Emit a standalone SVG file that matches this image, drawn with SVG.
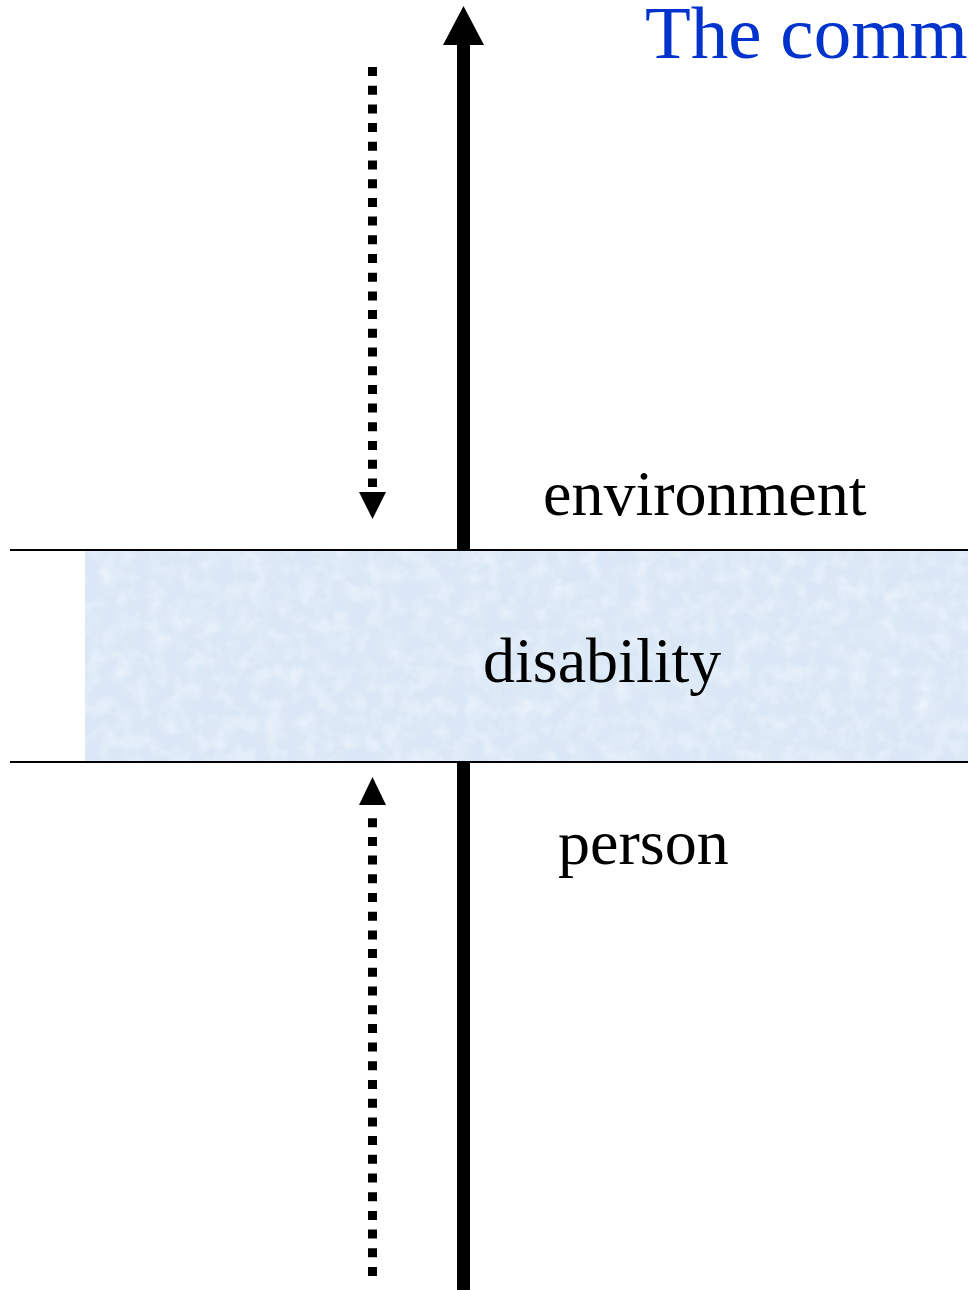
<svg xmlns="http://www.w3.org/2000/svg" width="968" height="1290" viewBox="0 0 968 1290">
<style>
.lbl{font-family:"Liberation Serif","Times New Roman",serif;font-size:64px;fill:#000}
.title{font-family:"Liberation Serif","Times New Roman",serif;font-size:75px;fill:#0033cc}
.solid{stroke:#000;stroke-width:13;fill:none}
.dot{stroke:#000;stroke-width:9;stroke-dasharray:9 9.7;fill:none}
.rule{stroke:#000;stroke-width:1.8}
</style>
<defs>
<filter id="tex" x="0" y="0" width="100%" height="100%">
<feTurbulence type="fractalNoise" baseFrequency="0.06" numOctaves="3" seed="4" result="n"/>
<feColorMatrix in="n" type="matrix" values="0 0 0 0 1  0 0 0 0 1  0 0 0 0 1  0 0 0 0.9 -0.35" result="w"/>
<feComposite in="w" in2="SourceGraphic" operator="in"/>
</filter>
</defs>
<rect width="968" height="1290" fill="#fff"/>
<g id="band">
<rect x="85" y="550" width="883" height="212" fill="#d9e7f6"/>
<rect x="85" y="550" width="883" height="212" fill="#d9e7f6" filter="url(#tex)"/>
<line class="rule" x1="10" y1="550" x2="968" y2="550"/>
<line class="rule" x1="10" y1="762" x2="968" y2="762"/>
</g>
<g id="connectors">
<line class="solid" x1="463.5" y1="40" x2="463.5" y2="550"/>
<polygon points="443,45 463.5,6 484,45" fill="#000"/>
<line class="solid" x1="463.5" y1="762" x2="463.5" y2="1290"/>
<line class="dot" x1="372.5" y1="67" x2="372.5" y2="487"/>
<polygon points="359,492 386,492 372.5,519" fill="#000"/>
<line class="dot" x1="372.5" y1="1276" x2="372.5" y2="810"/>
<polygon points="359,805 386,805 372.5,777" fill="#000"/>
</g>
<g id="title"><text class="title" x="645" y="58">The comm</text></g>
<g id="environment"><text class="lbl" x="543" y="515">environment</text></g>
<g id="disability"><text class="lbl" x="483" y="682">disability</text></g>
<g id="person"><text class="lbl" x="558" y="864">person</text></g>
</svg>
